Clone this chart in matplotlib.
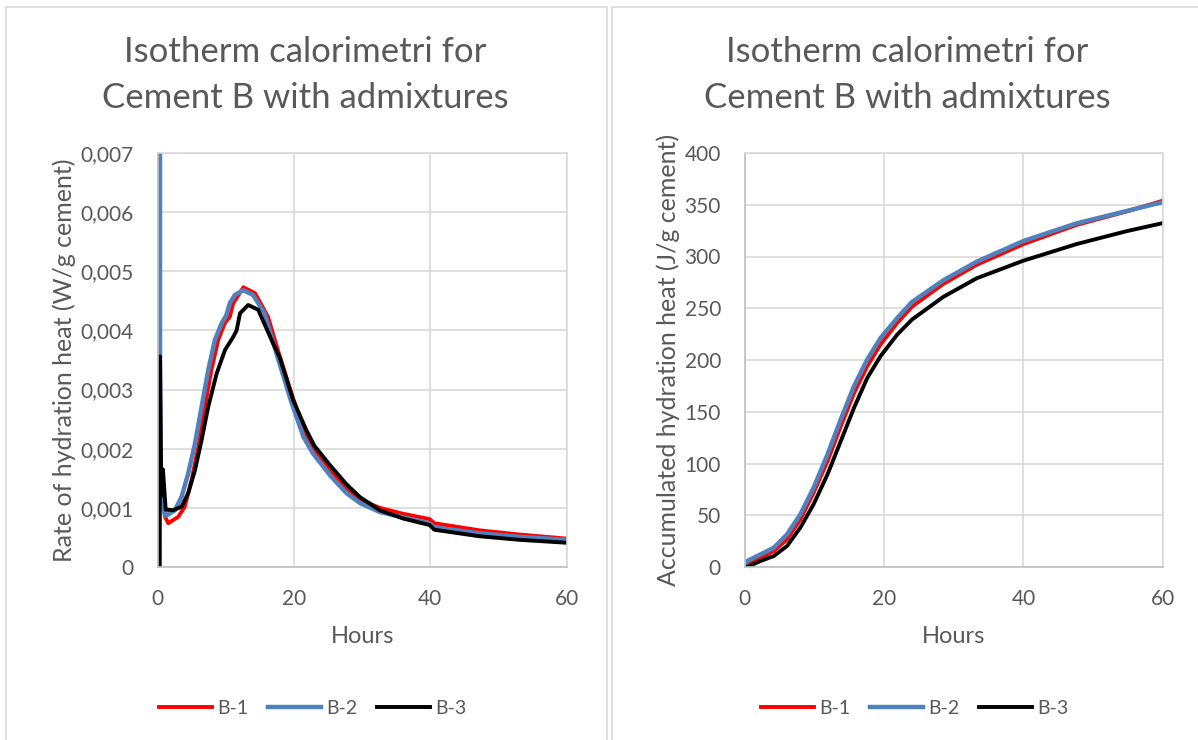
import matplotlib
matplotlib.use('Agg')
import matplotlib.pyplot as plt
from matplotlib.patches import Rectangle
from matplotlib.ticker import FuncFormatter, MultipleLocator

plt.rcParams['font.family'] = ['Lato', 'DejaVu Sans']

# --- rate of hydration heat, mW/g cement (plotted as W/g) ---
hours_rate_b1 = [0.37, 0.45, 0.8, 1.1, 1.58, 3.05, 4.0, 5.0, 5.98, 6.95, 7.9, 8.9, 9.9, 10.6, 11.1,
                 12.6, 14.3, 16.2, 17.8, 19.8, 21.6, 22.8, 25.3, 27.7, 29.7, 32.6, 36.0, 39.9, 40.6,
                 47.2, 53.0, 60.0]
rate_b1 = [3.0, 1.8, 1.2, 0.85, 0.74, 0.85, 1.02, 1.47, 2.03, 2.71, 3.33, 3.84, 4.13, 4.23, 4.46,
           4.73, 4.63, 4.23, 3.61, 2.88, 2.26, 2.00, 1.62, 1.34, 1.14, 1.00, 0.90, 0.81, 0.74,
           0.62, 0.55, 0.48]

hours_rate_b2 = [0.37, 0.37, 0.45, 0.7, 1.1, 1.3, 2.56, 3.54, 4.5, 5.5, 6.47, 7.44, 8.42, 9.4, 10.1,
                 10.6, 11.35, 12.56, 14.0, 15.7, 17.6, 19.6, 21.4, 22.8, 25.3, 27.7, 29.7, 32.6,
                 36.0, 39.9, 40.6, 47.2, 53.0, 60.0]
rate_b2 = [7.0, 3.6, 1.7, 1.1, 0.87, 0.87, 0.96, 1.19, 1.58, 2.09, 2.71, 3.33, 3.84, 4.12, 4.26,
           4.46, 4.60, 4.68, 4.60, 4.29, 3.55, 2.80, 2.20, 1.92, 1.55, 1.25, 1.08, 0.93,
           0.84, 0.74, 0.67, 0.57, 0.51, 0.46]

hours_rate_b3 = [0.33, 0.37, 0.55, 0.8, 1.2, 2.3, 3.54, 4.5, 5.5, 6.47, 7.44, 8.67, 9.9, 11.1, 11.6,
                 12.1, 13.3, 14.76, 16.95, 17.9, 19.9, 21.8, 23.0, 25.3, 27.7, 29.7, 32.6, 36.0,
                 39.9, 40.6, 47.2, 53.0, 60.0]
rate_b3 = [0.0, 3.56, 1.2, 1.65, 0.97, 0.96, 1.02, 1.25, 1.64, 2.15, 2.71, 3.27, 3.67, 3.89, 4.0,
           4.29, 4.43, 4.35, 3.78, 3.55, 2.82, 2.32, 2.05, 1.72, 1.40, 1.18, 0.96, 0.82,
           0.71, 0.63, 0.52, 0.46, 0.41]

# --- accumulated hydration heat, J/g cement ---
hours_acc = [0, 0.4, 2.3, 4.2, 6.1, 8.0, 9.9, 11.9, 13.8, 15.7, 17.6, 19.5, 21.9, 24.0, 28.5, 33.3,
             40.0, 47.6, 54.8, 60.0]
acc_b1 = [0, 2.6, 9, 15.4, 26.7, 46, 71.7, 102.3, 136, 168, 194, 215, 235.8, 251.5, 273.5, 292,
          312, 330.5, 343.5, 354]
acc_b2 = [0, 5.8, 12.2, 18.6, 31.5, 50.8, 76.5, 108.8, 142.6, 174.7, 200.5, 221.2, 240.6, 256,
          277, 295, 315, 332, 344, 352.6]
acc_b3 = [0, 0, 5.8, 10.6, 20.3, 38, 60.5, 89.5, 121.6, 153.8, 182.7, 203.7, 224.6, 239, 261,
          279, 296, 312, 324.5, 332.3]

series_names = ['B-1', 'B-2', 'B-3']
colors = ['#FF0000', '#4F81BD', '#000000']
widths = [2.8, 3.2, 2.8]
title_lines = ['Isotherm calorimetri for', 'Cement B with admixtures']
txt = '#595959'
grid_c = '#d9d9d9'

fig = plt.figure(figsize=(11.98, 7.4), dpi=100)

# chart-area frames
W, H = 1198, 740
for x0, x1 in [(6, 607), (612, 1205)]:
    fig.patches.append(Rectangle((x0 / W, -0.02), (x1 - x0) / W, (733 + 0.02 * H) / H,
                                 transform=fig.transFigure, fill=False,
                                 edgecolor=grid_c, lw=1.2))

ax1 = fig.add_axes([157.5 / W, 1 - 567 / H, (566.7 - 157.5) / W, (567 - 153) / H])
ax2 = fig.add_axes([744.5 / W, 1 - 567 / H, (1163 - 744.5) / W, (567 - 153) / H])

rate_sets = [(hours_rate_b1, rate_b1), (hours_rate_b2, rate_b2), (hours_rate_b3, rate_b3)]
for (h, r), name, c, lw in zip(rate_sets, series_names, colors, widths):
    ax1.plot(h, [v / 1000 for v in r], color=c, lw=lw, label=name, solid_joinstyle='round')

for acc, name, c, lw in zip([acc_b1, acc_b2, acc_b3], series_names, colors, widths):
    ax2.plot(hours_acc, acc, color=c, lw=lw, label=name, solid_joinstyle='round')

ax1.set_ylim(0, 0.007)
ax1.yaxis.set_major_locator(MultipleLocator(0.001))
ax1.yaxis.set_major_formatter(FuncFormatter(
    lambda v, p: '0' if abs(v) < 1e-9 else f'{v:.3f}'.replace('.', ',')))
ax1.set_ylabel('Rate of hydration heat (W/g cement)', fontsize=18, color=txt, labelpad=3)

ax2.set_ylim(0, 400)
ax2.yaxis.set_major_locator(MultipleLocator(50))
ax2.set_ylabel('Accumulated hydration heat (J/g cement)', fontsize=18, color=txt, labelpad=3)

for ax, cx in [(ax1, 305), (ax2, 907)]:
    ax.set_xlim(0, 60)
    ax.xaxis.set_major_locator(MultipleLocator(20))
    ax.set_xlabel('Hours', fontsize=17, color=txt, labelpad=12)
    ax.grid(True, color=grid_c, lw=1.2)
    ax.set_axisbelow(True)
    ax.tick_params(length=0, labelsize=15, colors=txt)
    ax.tick_params(axis='y', pad=17)
    ax.tick_params(axis='x', pad=16)
    for s in ax.spines.values():
        s.set_color(grid_c)
        s.set_linewidth(1.2)
    ax.spines['bottom'].set_color('#bfbfbf')
    ax.spines['left'].set_color('#bfbfbf')
    for line, ty in zip(title_lines, [52, 98]):
        fig.text(cx / W, 1 - ty / H, line, ha='center', va='center', fontsize=25, color=txt)
    ax.legend(loc='center', bbox_to_anchor=((cx + 8) / W, 1 - 708 / H),
              bbox_transform=fig.transFigure, ncol=3, frameon=False, fontsize=14,
              handlelength=2.7, handletextpad=0.3, columnspacing=1.0,
              labelcolor=txt)

fig.savefig('out.png', dpi=100)
